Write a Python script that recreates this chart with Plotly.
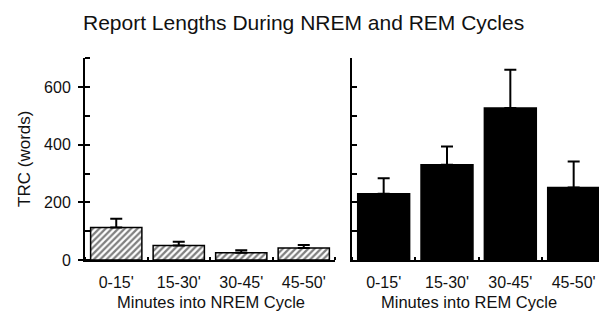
import plotly.graph_objects as go

# Report length (TRC, words) by time into the sleep cycle
categories = ["0-15'", "15-30'", "30-45'", "45-50'"]
nrem_mean = [113, 50, 25, 42]
nrem_err = [30, 13, 9, 10]
rem_mean = [230, 331, 528, 252]
rem_err = [54, 63, 132, 90]
y_ticks = [0, 200, 400, 600]

W, H = 599, 321
FONT = "Liberation Sans, Arial, sans-serif"
positions = list(range(len(categories)))
boundaries = [p - 0.5 for p in positions] + [positions[-1] + 0.5]


def px_x(v):
    return v / W


def px_y(v):
    return 1 - v / H


left_dom = [px_x(85), px_x(335)]
right_dom = [px_x(352), 1.0]
y_dom = [px_y(267.5), px_y(60)]
left_range = [-0.5, 3.5]
right_range = [-0.5, 3.4]

fig = go.Figure()

err_style = dict(type="data", symmetric=False, color="black", thickness=2, width=6)

fig.add_trace(go.Bar(
    x=positions, y=nrem_mean, xaxis="x", yaxis="y",
    marker=dict(color="white", line=dict(color="black", width=1.5),
                pattern=dict(shape="/", fgcolor="black", bgcolor="white",
                             size=4.5, solidity=0.5, fillmode="overlay")),
    error_y=dict(array=nrem_err, arrayminus=[0] * len(nrem_err), **err_style),
    showlegend=False,
))
fig.add_trace(go.Bar(
    x=positions, y=rem_mean, xaxis="x2", yaxis="y2",
    marker=dict(color="black", line=dict(color="black", width=1.5)),
    error_y=dict(array=rem_err, arrayminus=[0] * len(rem_err), **err_style),
    showlegend=False,
))

tick_font = dict(family=FONT, size=16, color="#111")

common_x = dict(
    tickmode="array", tickvals=positions, ticktext=categories, ticks="",
    ticklabelstandoff=7,
    showline=True, linecolor="black", linewidth=2, showgrid=False,
    zeroline=False, tickfont=tick_font, fixedrange=True,
    minor=dict(tickmode="linear", tick0=-0.5, dtick=1, ticks="inside",
               ticklen=3, tickwidth=2, tickcolor="black"),
)
# overlay axes carry the outward half of the boundary ticks
tick_only_x = dict(
    tickmode="array", tickvals=boundaries, ticks="outside", ticklen=4,
    tickwidth=2, tickcolor="black", showticklabels=False, showline=False,
    showgrid=False, zeroline=False, fixedrange=True,
)

fig.update_layout(
    width=W, height=H,
    margin=dict(l=0, r=0, t=0, b=0),
    paper_bgcolor="white", plot_bgcolor="white",
    bargap=0.18,
    font=dict(family=FONT, color="#111"),
    xaxis=dict(domain=left_dom, range=left_range, anchor="y", **common_x),
    xaxis2=dict(domain=right_dom, range=right_range, anchor="y2", **common_x),
    xaxis3=dict(domain=left_dom, range=left_range, anchor="y", overlaying="x", **tick_only_x),
    xaxis4=dict(domain=right_dom, range=right_range, anchor="y2", overlaying="x2", **tick_only_x),
    yaxis=dict(
        domain=y_dom, range=[0, 700], anchor="x",
        tickmode="array", tickvals=y_ticks, ticktext=[str(v) for v in y_ticks],
        ticks="outside", ticklen=5, tickwidth=2, tickcolor="black",
        ticklabelstandoff=4,
        minor=dict(tickmode="linear", tick0=0, dtick=100, ticks="inside",
                   ticklen=5, tickwidth=1.5, tickcolor="black"),
        showline=True, linecolor="black", linewidth=2, showgrid=False,
        zeroline=False, tickfont=tick_font, fixedrange=True,
    ),
    yaxis2=dict(
        domain=y_dom, range=[0, 700], anchor="x2",
        tickmode="linear", tick0=0, dtick=100, ticks="inside", ticklen=5,
        tickwidth=1.5, tickcolor="black", showticklabels=False,
        showline=True, linecolor="black", linewidth=2, showgrid=False,
        zeroline=False, fixedrange=True,
    ),
    annotations=[
        dict(text="Report Lengths During NREM and REM Cycles",
             x=px_x(303), y=px_y(23), xref="paper", yref="paper",
             xanchor="center", yanchor="middle", showarrow=False,
             font=dict(family=FONT, size=21, color="#111")),
        dict(text="TRC (words)", textangle=-90,
             x=px_x(25), y=px_y(163.5), xref="paper", yref="paper",
             xanchor="center", yanchor="middle", showarrow=False,
             font=dict(family=FONT, size=17, color="#111")),
        dict(text="Minutes into NREM Cycle",
             x=px_x(211), y=px_y(311), xref="paper", yref="paper",
             xanchor="center", yanchor="middle", showarrow=False,
             font=dict(family=FONT, size=16.5, color="#111")),
        dict(text="Minutes into REM Cycle",
             x=px_x(469), y=px_y(311), xref="paper", yref="paper",
             xanchor="center", yanchor="middle", showarrow=False,
             font=dict(family=FONT, size=16.5, color="#111")),
    ],
)

fig.write_html("out.html")
